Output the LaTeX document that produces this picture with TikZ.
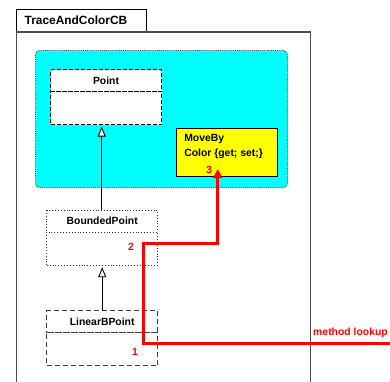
\documentclass[tikz,border=0pt]{standalone}
\usepackage{fontspec}
\setmainfont{Liberation Sans}
\usetikzlibrary{arrows.meta,positioning}
\definecolor{regioncyan}{RGB}{0,255,255}
\definecolor{moveyellow}{RGB}{255,255,0}
\definecolor{lookupred}{RGB}{255,0,0}

\begin{document}
\begin{tikzpicture}[x=1pt, y=-1pt, >=Latex,
  every node/.style={font=\fontsize{10.4}{15}\selectfont\bfseries, inner sep=0pt, outer sep=0pt},
  head/.style={draw, fill=white, line width=0.9pt, minimum width=111pt, minimum height=22pt},
  body/.style={draw, fill=white, line width=0.9pt, minimum width=111pt, minimum height=33pt},
  inherit/.style={-{Triangle[open, fill=white, length=10pt, width=8pt]}, line width=0.9pt, shorten >=2pt},
  lookup/.style={draw=lookupred, line width=3pt, -{Triangle[length=9pt, width=9pt]}},
  num/.style={text=lookupred}]
\useasboundingbox (0,0) rectangle (390,381);
% package frame with tab
\node[draw, line width=1pt, anchor=north west, text width=114pt, inner xsep=8pt, minimum height=22.7pt, align=left,
  font=\fontsize{11.9}{14}\selectfont\bfseries] (tab) at (16.7,9.3) {TraceAndColorCB};
\coordinate (framebl) at (16.7,395);
\coordinate (frametr) at (310.3,31.9);
\draw[line width=1.2pt, draw=black!70] (framebl) |- (frametr) -- (frametr |- framebl);
% shared region
\node[draw=black!70, densely dotted, line width=0.9pt, fill=regioncyan, rounded corners=4pt, anchor=north west,
  minimum width=252pt, minimum height=137pt] (region) at (35.5,50.5) {};
\node[draw, line width=0.9pt, fill=moveyellow, anchor=north west, minimum width=100.3pt, minimum height=48pt] (movebox) at (176.7,128.3) {};
\node[anchor=north west, align=left] (movetext) at (184.3,134.3) {MoveBy\\Color \{get; set;\}};
% classes
\node[head, dash pattern=on 4pt off 2pt] (pointhead) at (106,80.5) {Point};
\node[body, dash pattern=on 4pt off 2pt, below=0pt of pointhead] (pointbody) {};
\node[head, draw=black!80, dotted] (boundedhead) at (102.2,221.2) {BoundedPoint};
\node[body, draw=black!80, dotted, below=0pt of boundedhead] (boundedbody) {};
\node[head, draw=black!75, dash pattern=on 5pt off 3pt] (linearhead) at (102.2,321.7) {LinearBPoint};
\node[body, draw=black!75, dash pattern=on 5pt off 3pt, below=0pt of linearhead] (linearbody) {};
\draw[inherit] (boundedhead.north -| 101.7,0) -- (pointbody.south -| 101.7,0);
\draw[inherit] (linearhead.north) -- (boundedbody.south);
% lookup path
\coordinate (lookupstart) at (395,343.3);
\coordinate (lookupturn) at (143.3,243.3);
\coordinate (lookupend) at (217.7,169);
\draw[lookup] (lookupstart) -| (lookupturn) -| (lookupend);
\node[num] (stepone) at (135,351.5) {1};
\node[num] (steptwo) at (131,247) {2};
\node[num] (stepthree) at (209,169.5) {3};
\node[text=lookupred] (lookuplabel) at (350.5,333) {method lookup};
\end{tikzpicture}
\end{document}
